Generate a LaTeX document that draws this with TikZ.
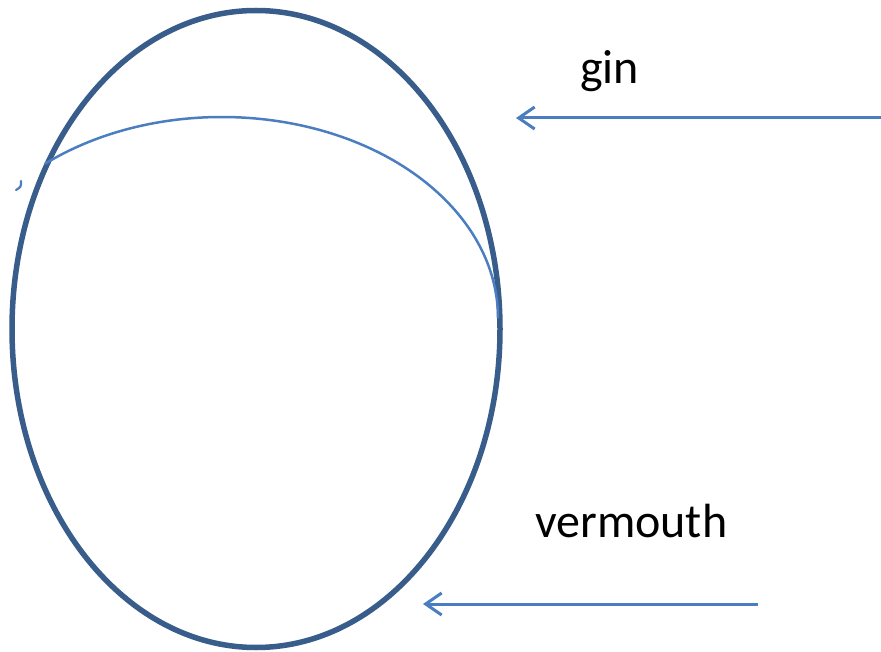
\documentclass[tikz,border=0pt]{standalone}
\usepackage{fontspec}
\setmainfont{Carlito}
\usetikzlibrary{arrows.meta}
\definecolor{darkblue}{HTML}{385D8A}
\definecolor{lightblue}{HTML}{4A7EC1}
\tikzset{
  flow/.style={draw=lightblue, line width=3pt, -{Straight Barb[length=16pt,width=22pt,line width=3pt]}},
  label/.style={font=\fontsize{48}{58}\selectfont, text=black, inner sep=0pt}
}
\begin{document}
\begin{tikzpicture}[x=1pt,y=-1pt]
\useasboundingbox (0,0) rectangle (881,652);
\draw[darkblue, line width=5.5pt] (256,329) ellipse [x radius=244, y radius=318.5];
\draw[lightblue, line width=2.5pt] (222,318) ++(-129.9:276 and 201) arc [start angle=-129.9, end angle=0, x radius=276, y radius=201];
\draw[lightblue, line width=2.2pt, line cap=round] (21,181) .. controls (21,187) .. (16,190);
\node[label, anchor=base west] (gin) at (580,84) {gin};
\node[label, anchor=base west] (verm) at (535,537) {vermouth};
\coordinate (ginstart) at (881,118);
\coordinate (ginend) at (516,118);
\coordinate (vstart) at (758,604);
\coordinate (vend) at (423,604);
\draw[flow] (ginstart) -- (ginend);
\draw[flow] (vstart) -- (vend);
\end{tikzpicture}
\end{document}
